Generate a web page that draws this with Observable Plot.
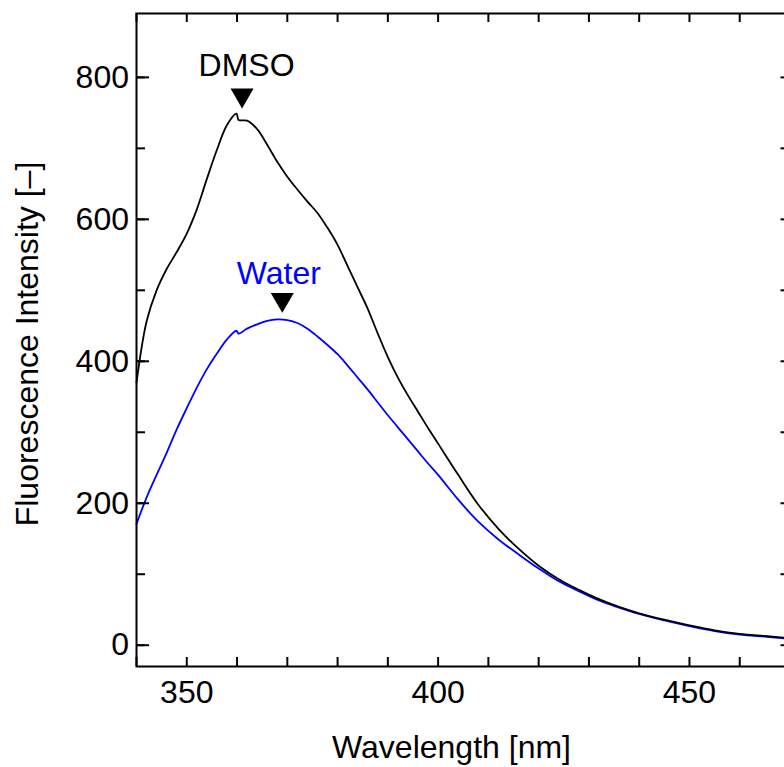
<!DOCTYPE html>
<html>
<head>
<meta charset="utf-8">
<script src="https://cdn.jsdelivr.net/npm/d3@7"></script>
<script src="https://cdn.jsdelivr.net/npm/@observablehq/plot@0.6"></script>
<style>
  html, body { margin: 0; padding: 0; background: #fff; overflow: hidden; }
  #chart svg { max-width: none !important; width: 800px !important; height: 767px !important; }
</style>
</head>
<body>
<div id="chart"></div>
<script>
// ---- data ----
const wavelength = [340, 342, 344, 346, 348, 350, 352, 354, 356, 358, 359.9, 360.3, 362, 364, 366, 368, 370, 372, 374, 376, 378, 380, 382, 384, 386, 388, 390, 392, 394, 396, 398, 400, 404, 408, 412, 416, 420, 424, 428, 432, 436, 440, 445, 450, 455, 460, 465, 470];
const dmso = [370, 456, 500, 530, 554, 580, 614, 657, 698, 733, 749, 740, 739, 727, 705, 681, 660, 642, 625, 609, 588, 564, 534, 504, 474, 439, 406, 377, 352, 329, 306, 284, 240, 198, 164, 136, 112, 93, 78, 65, 54, 45, 36, 28, 21, 16, 13, 10];
const water = [171, 208, 240, 271, 304, 334, 363, 389, 411, 431, 443, 439, 446, 452, 457, 459, 458, 454, 446, 435, 423, 410, 394, 377, 360, 342, 324, 307, 290, 273, 256, 240, 205, 174, 149, 128, 108, 90, 76, 63, 53, 44, 35, 27, 20, 15, 12, 9];

const markerX = [361.0, 369.0];
const markerY = [775, 487];
const labelNames = ["DMSO", "Water"];
const labelX = [361.9, 368.3];
const labelY = [817, 523];
const labelColors = ["#000000", "#0000ff"];

const xMajor = [350, 400, 450];
const xMinor = d3.range(340, 471, 10);
const yMajor = [0, 200, 400, 600, 800];
const yMinor = d3.range(0, 801, 100);

const xTitle = "Wavelength [nm]";
const yTitle = "Fluorescence Intensity [–]";

// ---- build ----
const dmsoData = wavelength.map((w, i) => ({w, v: dmso[i]}));
const waterData = wavelength.map((w, i) => ({w, v: water[i]}));
const markers = markerX.map((x, i) => ({x, y: markerY[i]}));
const labels = labelNames.map((t, i) => ({t, x: labelX[i], y: labelY[i], c: labelColors[i]}));

const W = 800, H = 767;
const mL = 136, mR = 10.5, mT = 13, mB = 101;
const fw = W - mL - mR, fh = H - mT - mB;
const fs = 32;

const chart = Plot.plot({
  width: W,
  height: H,
  marginLeft: mL,
  marginRight: mR,
  marginTop: mT,
  marginBottom: mB,
  style: {fontFamily: "'Liberation Sans', Arial, Helvetica, sans-serif", fontSize: fs + "px", background: "#fff", color: "#000"},
  x: {domain: [340, 470], axis: null},
  y: {domain: [-30, 890], axis: null},
  marks: [
    Plot.line(waterData, {x: "w", y: "v", stroke: "#0000ff", strokeWidth: 1.8, curve: "catmull-rom"}),
    Plot.line(dmsoData, {x: "w", y: "v", stroke: "#000", strokeWidth: 1.8, curve: "catmull-rom"}),
    // ticks (inward) bottom & top
    Plot.ruleX(xMinor, {x: d => d, insetTop: fh - 9, stroke: "#000", strokeWidth: 2}),
    Plot.ruleX(xMinor, {x: d => d, insetBottom: fh - 9, stroke: "#000", strokeWidth: 2}),
    // left ticks
    Plot.ruleY(yMinor, {y: d => d, insetRight: fw - 9, stroke: "#000", strokeWidth: 2}),
    Plot.ruleY(yMajor, {y: d => d, insetRight: fw - 13, stroke: "#000", strokeWidth: 2}),
    // right ticks
    Plot.ruleY(yMinor, {y: d => d, insetLeft: fw - 9, stroke: "#000", strokeWidth: 2}),
    Plot.frame({stroke: "#000", strokeWidth: 2}),
    // tick labels
    Plot.text(xMajor, {x: d => d, frameAnchor: "bottom", lineAnchor: "middle", dy: 25.8, text: d => String(d), fontSize: fs, fill: "#000"}),
    Plot.text(yMajor, {y: d => d, frameAnchor: "left", lineAnchor: "middle", dx: -7.5, textAnchor: "end", text: d => String(d), fontSize: fs, fill: "#000"}),
    // axis titles
    Plot.text([xTitle], {frameAnchor: "bottom", lineAnchor: "middle", textAnchor: "middle", dx: -11.75, dy: 80.8, text: d => d, fontSize: fs, fill: "#000"}),
    Plot.text([yTitle], {frameAnchor: "left", lineAnchor: "middle", textAnchor: "middle", dx: -109.2, dy: 4, rotate: -90, text: d => d, fontSize: fs, fill: "#000"}),
    // peak markers
    Plot.dot(markers, {x: "x", y: "y", symbol: "triangle", rotate: 180, r: 8.56, fill: "#000", stroke: "none"}),
    Plot.text(labels, {x: "x", y: "y", text: "t", fill: "c", fontSize: fs, lineAnchor: "middle"})
  ]
});
document.getElementById("chart").appendChild(chart);
</script>
</body>
</html>
